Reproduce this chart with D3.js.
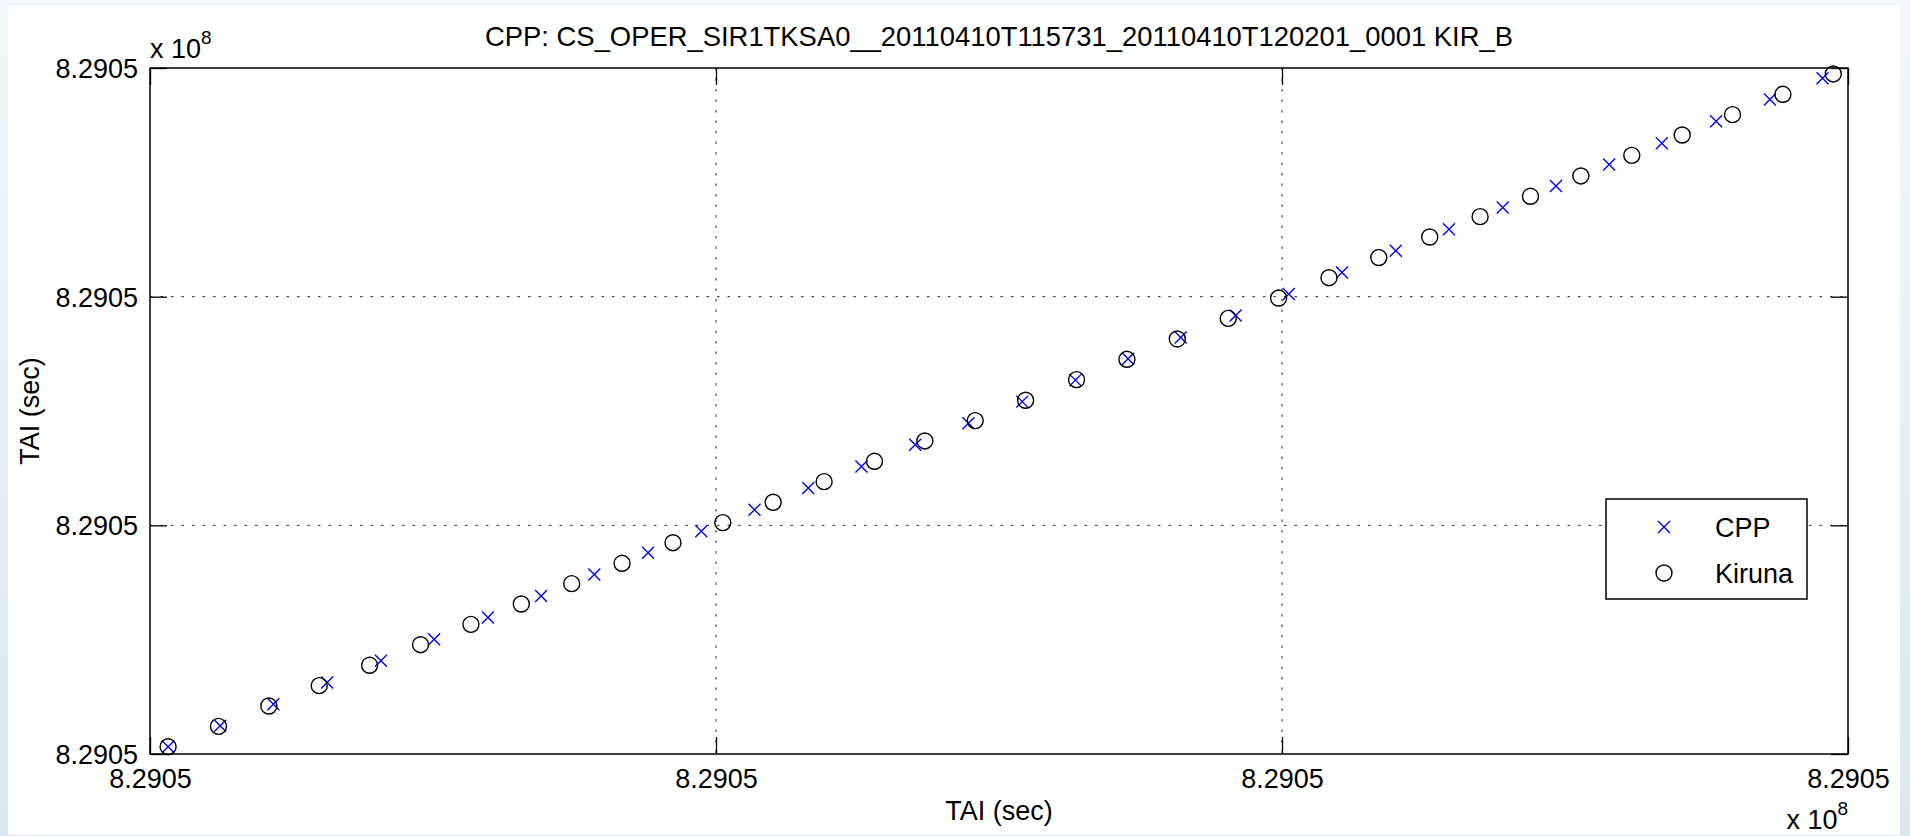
<!DOCTYPE html>
<html>
<head>
<meta charset="utf-8">
<script src="https://cdn.jsdelivr.net/npm/d3@7"></script>
<style>
  html, body { margin: 0; padding: 0; background: #fff; }
  svg { display: block; }
  text { font-family: "Liberation Sans", Arial, Helvetica, sans-serif; fill: #000; }
</style>
</head>
<body>
<svg id="chart" width="1910" height="836"></svg>
<script>
// Time stamps (TAI seconds) of the CPP and Kiruna records, each plotted against itself
const cppTAI = [
  829051003.2, 829051012.4, 829051021.8, 829051031.3, 829051040.8, 829051050.2,
  829051059.7, 829051069.1, 829051078.5, 829051088.0, 829051097.4, 829051106.8,
  829051116.3, 829051125.7, 829051135.2, 829051144.6, 829051154.1, 829051163.5,
  829051172.8, 829051182.1, 829051191.8, 829051201.2, 829051210.6, 829051220.1,
  829051229.5, 829051239.0, 829051248.4, 829051257.8, 829051267.1, 829051276.7,
  829051286.2, 829051295.5
];
const kirunaTAI = [
  829051003.2, 829051012.1, 829051021.0, 829051029.9, 829051038.8, 829051047.8,
  829051056.7, 829051065.6, 829051074.5, 829051083.4, 829051092.4, 829051101.2,
  829051110.1, 829051119.1, 829051128.0, 829051136.9, 829051145.8, 829051154.7,
  829051163.7, 829051172.6, 829051181.5, 829051190.5, 829051199.4, 829051208.3,
  829051217.1, 829051226.1, 829051235.0, 829051243.9, 829051252.8, 829051261.8,
  829051270.7, 829051279.6, 829051288.5, 829051297.4
];
const axisDomain = [829051000, 829051300];
const tickValues = [829051000, 829051100, 829051200, 829051300];
const tickLabels = ["8.2905", "8.2905", "8.2905", "8.2905"];
const seriesNames = ["CPP", "Kiruna"];
const titleText = "CPP: CS_OPER_SIR1TKSA0__20110410T115731_20110410T120201_0001 KIR_B";
const axisLabel = "TAI (sec)";

const W = 1910, H = 836;
const plot = { left: 150, right: 1848, top: 68, bottom: 754 };
const FONT = 27;

const svg = d3.select("#chart");

// page background with a pale blue frame
const defs = svg.append("defs");
const grad = defs.append("linearGradient").attr("id", "frame")
  .attr("x1", 0).attr("y1", 0).attr("x2", 0).attr("y2", 1);
grad.append("stop").attr("offset", "0%").attr("stop-color", "#f4f8fa");
grad.append("stop").attr("offset", "100%").attr("stop-color", "#d8e8ee");
svg.append("rect").attr("width", W).attr("height", H).attr("fill", "url(#frame)");
svg.append("rect").attr("x", 8).attr("y", 5).attr("width", 1892).attr("height", 830).attr("fill", "#fff");

const x = d3.scaleLinear().domain(axisDomain).range([plot.left, plot.right]);
const y = d3.scaleLinear().domain(axisDomain).range([plot.bottom, plot.top]);

// dotted grid at the interior ticks
const inner = tickValues.slice(1, -1);
const grid = svg.append("g").attr("stroke", "#222").attr("stroke-width", 1)
  .attr("stroke-dasharray", "2.5,8");
grid.selectAll(".gx").data(inner).join("line")
  .attr("x1", d => x(d)).attr("x2", d => x(d))
  .attr("y1", plot.top).attr("y2", plot.bottom);
grid.selectAll(".gy").data(inner).join("line")
  .attr("y1", d => y(d)).attr("y2", d => y(d))
  .attr("x1", plot.left).attr("x2", plot.right);

// axes with inward ticks on all four sides
const TICK = 17;
const fmt = (d, i) => tickLabels[i];
function styleAxis(g) {
  g.select(".domain").remove();
  g.selectAll(".tick line").attr("stroke", "#000").attr("stroke-width", 1.3);
  g.selectAll("text").attr("font-size", FONT).attr("fill", "#000")
    .attr("font-family", "Liberation Sans, Arial, Helvetica, sans-serif");
}
const gB = svg.append("g").attr("transform", `translate(0,${plot.bottom})`)
  .call(d3.axisBottom(x).tickValues(tickValues).tickFormat(fmt).tickSizeInner(-TICK).tickSizeOuter(0));
styleAxis(gB);
gB.selectAll("text").attr("y", 34).attr("dy", 0);

const gT = svg.append("g").attr("transform", `translate(0,${plot.top})`)
  .call(d3.axisTop(x).tickValues(tickValues).tickFormat("").tickSizeInner(-TICK).tickSizeOuter(0));
styleAxis(gT);

const gL = svg.append("g").attr("transform", `translate(${plot.left},0)`)
  .call(d3.axisLeft(y).tickValues(tickValues).tickFormat(fmt).tickSizeInner(-TICK).tickSizeOuter(0).tickPadding(12));
styleAxis(gL);
gL.selectAll("text").attr("dy", "0.35em");

const gR = svg.append("g").attr("transform", `translate(${plot.right},0)`)
  .call(d3.axisRight(y).tickValues(tickValues).tickFormat("").tickSizeInner(-TICK).tickSizeOuter(0));
styleAxis(gR);

// axes box
svg.append("rect")
  .attr("x", plot.left).attr("y", plot.top)
  .attr("width", plot.right - plot.left).attr("height", plot.bottom - plot.top)
  .attr("fill", "none").attr("stroke", "#000").attr("stroke-width", 1.5);

// markers
const CROSS = 6, RAD = 8;
const crossPath = `M${-CROSS},${-CROSS}L${CROSS},${CROSS}M${-CROSS},${CROSS}L${CROSS},${-CROSS}`;
svg.append("g").selectAll("path").data(cppTAI).join("path")
  .attr("transform", d => `translate(${x(d)},${y(d)})`)
  .attr("d", crossPath).attr("fill", "none").attr("stroke", "#0000ff").attr("stroke-width", 1.4);
svg.append("g").selectAll("circle").data(kirunaTAI).join("circle")
  .attr("cx", d => x(d)).attr("cy", d => y(d)).attr("r", RAD)
  .attr("fill", "none").attr("stroke", "#000").attr("stroke-width", 1.4);

// title and axis labels
svg.append("text").attr("x", (plot.left + plot.right) / 2).attr("y", 46)
  .attr("text-anchor", "middle").attr("font-size", 27.4).text(titleText);
svg.append("text").attr("x", (plot.left + plot.right) / 2).attr("y", 820)
  .attr("text-anchor", "middle").attr("font-size", FONT).text(axisLabel);
svg.append("text").attr("transform", `translate(39,${(plot.top + plot.bottom) / 2}) rotate(-90)`)
  .attr("text-anchor", "middle").attr("font-size", FONT).text(axisLabel);

// exponent multipliers
const expTop = svg.append("text").attr("x", plot.left).attr("y", 58).attr("font-size", FONT);
expTop.append("tspan").text("x 10");
expTop.append("tspan").attr("font-size", 19).attr("dy", -14).text("8");
const expBot = svg.append("text").attr("x", plot.right).attr("y", 829)
  .attr("text-anchor", "end").attr("font-size", FONT);
expBot.append("tspan").text("x 10");
expBot.append("tspan").attr("font-size", 19).attr("dy", -14).text("8");

// legend
const lg = svg.append("g").attr("transform", "translate(1606,499)");
lg.append("rect").attr("width", 201).attr("height", 100)
  .attr("fill", "#fff").attr("stroke", "#000").attr("stroke-width", 1.5);
const items = lg.selectAll("g.item").data(seriesNames).join("g")
  .attr("transform", (d, i) => `translate(0,${28 + i * 46})`);
items.each(function (d, i) {
  const g = d3.select(this);
  if (i === 0) {
    g.append("path").attr("transform", "translate(58,0)").attr("d", crossPath)
      .attr("fill", "none").attr("stroke", "#0000ff").attr("stroke-width", 1.4);
  } else {
    g.append("circle").attr("cx", 58).attr("cy", 0).attr("r", RAD)
      .attr("fill", "none").attr("stroke", "#000").attr("stroke-width", 1.4);
  }
  g.append("text").attr("x", 109).attr("y", 10).attr("font-size", FONT).text(d);
});
</script>
</body>
</html>
